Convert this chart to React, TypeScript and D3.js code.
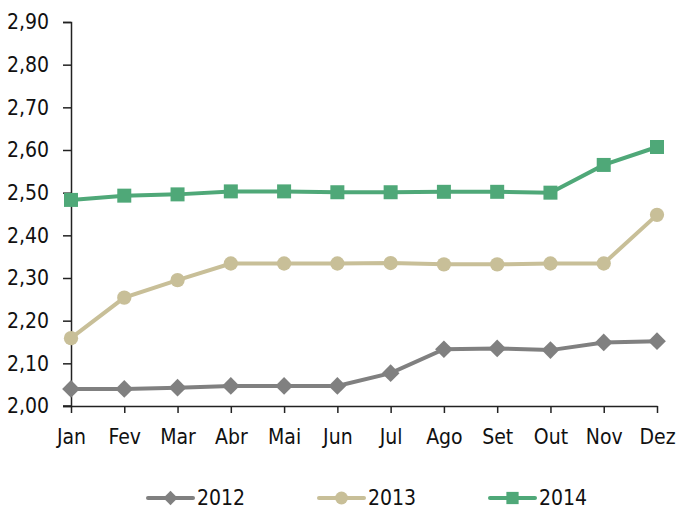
import * as d3 from "d3";
import { useEffect, useRef } from "react";

const months = ["Jan", "Fev", "Mar", "Abr", "Mai", "Jun", "Jul", "Ago", "Set", "Out", "Nov", "Dez"];
const values2012 = [2.04, 2.04, 2.043, 2.047, 2.047, 2.047, 2.077, 2.133, 2.135, 2.131, 2.149, 2.152];
const values2013 = [2.159, 2.254, 2.295, 2.334, 2.334, 2.334, 2.335, 2.332, 2.332, 2.334, 2.334, 2.448];
const values2014 = [2.483, 2.493, 2.496, 2.503, 2.503, 2.501, 2.501, 2.502, 2.502, 2.5, 2.565, 2.607];
const yTicks = [2.0, 2.1, 2.2, 2.3, 2.4, 2.5, 2.6, 2.7, 2.8, 2.9];

const series = [
  { name: "2012", values: values2012, color: "#808080", symbol: "diamond" },
  { name: "2013", values: values2013, color: "#c8bf98", symbol: "circle" },
  { name: "2014", values: values2014, color: "#4fa878", symbol: "square" },
];

const FONT = "'DejaVu Sans', sans-serif";

const App = () => {
  const svgRef = useRef<SVGSVGElement>(null);

  useEffect(() => {
    const svg = d3.select(svgRef.current);
    svg.selectAll("*").remove();

    const width = 680;
    const height = 511;
    const left = 71;
    const right = 657;
    const top = 22;
    const bottom = 406;

    svg.attr("width", width).attr("height", height);

    const x = d3.scalePoint<string>().domain(months).range([left, right]);
    const y = d3.scaleLinear().domain([2.0, 2.9]).range([bottom, top]);
    const fmt = (v: number) => v.toFixed(2).replace(".", ",");

    const styleText = (sel: any) =>
      sel
        .attr("font-family", FONT)
        .attr("font-size", 21)
        .style("font-stretch", "condensed")
        .attr("fill", "#111");

    // y axis
    const yAxis = svg
      .append("g")
      .attr("transform", `translate(${left},0)`)
      .call(d3.axisLeft(y).tickValues(yTicks).tickSize(8).tickPadding(14).tickFormat((d) => fmt(d as number)));
    yAxis.select(".domain").attr("stroke", "#222").attr("stroke-width", 1.5);
    yAxis.selectAll(".tick line").attr("stroke", "#222").attr("stroke-width", 1.5);
    styleText(yAxis.selectAll("text"));

    // x axis
    const xAxis = svg
      .append("g")
      .attr("transform", `translate(0,${bottom})`)
      .call(d3.axisBottom(x).tickSize(7).tickPadding(16).tickSizeOuter(0));
    xAxis.select(".domain").attr("stroke", "#222").attr("stroke-width", 1.5);
    xAxis.selectAll(".tick line").attr("stroke", "#222").attr("stroke-width", 1.5);
    styleText(xAxis.selectAll("text"));
    // base line runs out to the y tick ends
    xAxis
      .append("line")
      .attr("x1", left - 8)
      .attr("x2", left)
      .attr("stroke", "#222")
      .attr("stroke-width", 1.5);

    const symbolFor = (s: string) =>
      s === "diamond"
        ? d3.symbol().type(d3.symbolDiamond2).size(200)
        : s === "circle"
        ? d3.symbol().type(d3.symbolCircle).size(160)
        : d3.symbol().type(d3.symbolSquare).size(196);

    const line = d3
      .line<number>()
      .x((_, i) => x(months[i]) as number)
      .y((d) => y(d));

    series.forEach((s) => {
      svg
        .append("path")
        .datum(s.values)
        .attr("d", line)
        .attr("fill", "none")
        .attr("stroke", s.color)
        .attr("stroke-width", 4);

      svg
        .selectAll(null)
        .data(s.values)
        .enter()
        .append("path")
        .attr("d", symbolFor(s.symbol) as any)
        .attr("transform", (d, i) => `translate(${x(months[i])},${y(d)})`)
        .attr("fill", s.color);
    });

    // legend
    const legendX = [148, 319, 490];
    series.forEach((s, i) => {
      const g = svg.append("g").attr("transform", `translate(${legendX[i]},498)`);
      g.append("line")
        .attr("x1", 0)
        .attr("x2", 45)
        .attr("stroke", s.color)
        .attr("stroke-width", 4)
        .attr("stroke-linecap", "round");
      g.append("path")
        .attr("d", symbolFor(s.symbol).size(s.symbol === "square" ? 150 : 130) as any)
        .attr("transform", "translate(22.5,0)")
        .attr("fill", s.color);
      styleText(
        g.append("text")
          .attr("x", 49)
          .attr("dy", "0.35em")
      ).text(s.name);
    });
  }, []);

  return <svg ref={svgRef} style={{ position: "absolute", left: 0, top: 0 }}></svg>;
};

export default App;
